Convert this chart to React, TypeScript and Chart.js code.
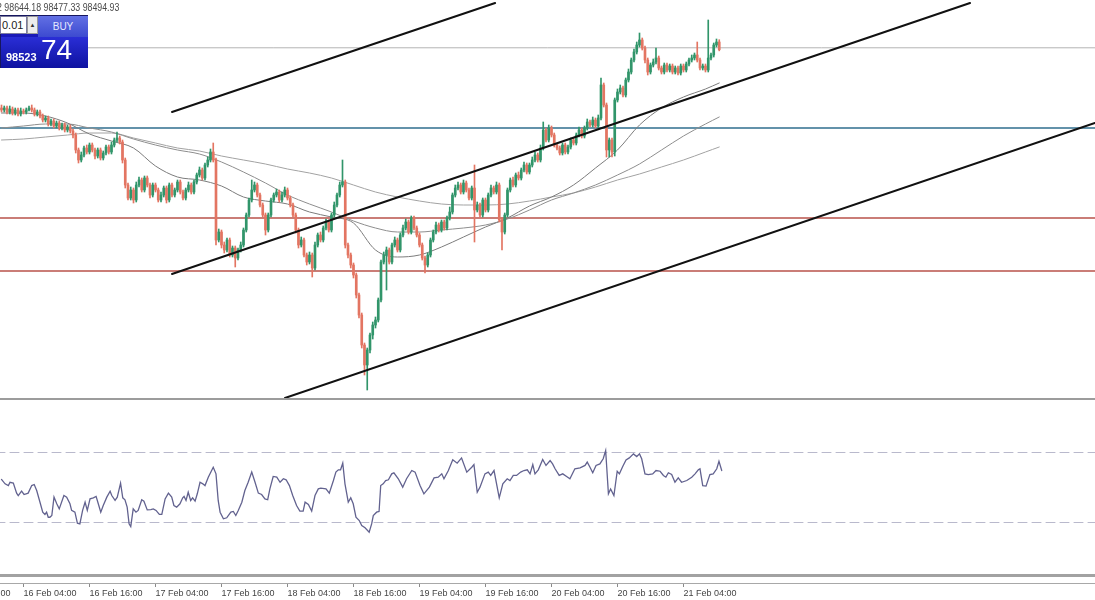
import React, { useEffect, useRef } from "react";
import { Chart, registerables } from "chart.js";

Chart.register(...registerables);

// ---- Candles (BTCUSD, 30-minute bars, bar 0 = 16 Feb 00:00) ----
const opens = [
  97620, 97590, 97620, 97560, 97605, 97545, 97590, 97530, 97575, 97560,
  97590, 97620, 97590, 97530, 97560, 97500, 97440, 97470, 97380, 97425,
  97350, 97395, 97320, 97365, 97290, 97335, 97275, 97215, 96990, 96840,
  96915, 97020, 96960, 97065, 96990, 96900, 96990, 96870, 96945, 97035,
  96960, 97065, 97140, 97170, 97110, 96840, 96465, 96270, 96390, 96240,
  96465, 96540, 96390, 96570, 96465, 96315, 96465, 96390, 96240, 96315,
  96420, 96240, 96465, 96315, 96390, 96510, 96360, 96270, 96390, 96465,
  96360, 96510, 96615, 96690, 96570, 96765, 96840, 96960, 96840, 95640,
  95760, 95565, 95490, 95640, 95415, 95520, 95370, 95490, 95565, 95790,
  96015, 96240, 96390, 96465, 96315, 96165, 96015, 95790, 96015, 96240,
  96315, 96360, 96240, 96315, 96390, 96270, 96165, 96015, 95790, 95565,
  95640, 95415, 95310, 95415, 95220, 95565, 95715, 95640, 95820, 95910,
  95790, 96015, 96165, 96315, 96465, 96510, 95565, 95415, 95265, 95115,
  94815, 94515, 94065, 93765, 93990, 94215, 94365, 94440, 94740, 95310,
  95415, 95490, 95310, 95565, 95640, 95490, 95715, 95820, 95910, 95760,
  95970, 95820, 95715, 95565, 95370, 95265, 95415, 95640, 95760, 95865,
  95790, 95910, 95820, 95970, 96060, 96315, 96420, 96465, 96360, 96495,
  96390, 96270, 96420, 96090, 96165, 96015, 96240, 96090, 96315, 96420,
  96360, 96465, 95940, 95760, 96015, 96390, 96540, 96465, 96615, 96570,
  96690, 96765, 96660, 96765, 96840, 96915, 96840, 97020, 97290, 97140,
  97320, 97215, 97065, 97020, 96945, 97065, 96960, 97035, 97140, 97095,
  97215, 97290, 97200, 97320, 97410, 97365, 97440, 97350, 97470, 97965,
  97665, 96990, 97140, 96960, 97740, 97860, 97920, 97815, 98040, 98160,
  98340, 98460, 98565, 98640, 98520, 98340, 98160, 98265, 98310, 98370,
  98220, 98160, 98265, 98190, 98250, 98160, 98220, 98145, 98250, 98190,
  98280, 98340, 98370, 98415, 98340, 98220, 98250, 98190, 98370, 98415,
  98565, 98610,
];
const highs = [
  97665, 97650, 97650, 97650, 97635, 97620, 97620, 97620, 97605, 97620,
  97650, 97665, 97620, 97590, 97590, 97530, 97500, 97500, 97455, 97455,
  97425, 97425, 97395, 97395, 97365, 97365, 97305, 97245, 97020, 96960,
  97050, 97065, 97095, 97095, 97020, 97020, 97020, 96975, 97065, 97065,
  97110, 97170, 97260, 97200, 97140, 96870, 96495, 96435, 96420, 96510,
  96585, 96570, 96600, 96600, 96495, 96495, 96495, 96420, 96360, 96450,
  96450, 96495, 96495, 96420, 96540, 96540, 96390, 96420, 96510, 96495,
  96540, 96645, 96735, 96720, 96795, 96885, 97005, 97095, 96870, 95805,
  95790, 95610, 95670, 95670, 95550, 95550, 95520, 95610, 95820, 96045,
  96270, 96540, 96510, 96495, 96345, 96195, 96045, 96045, 96270, 96345,
  96405, 96390, 96360, 96435, 96420, 96300, 96195, 96045, 95820, 95685,
  95670, 95445, 95460, 95445, 95610, 95745, 95760, 95850, 95955, 95940,
  96045, 96210, 96345, 96510, 96840, 96540, 95595, 95445, 95295, 95145,
  94845, 94545, 94095, 94020, 94245, 94410, 94485, 94770, 95340, 95460,
  95535, 95520, 95595, 95685, 95670, 95745, 95865, 95955, 95940, 96000,
  96000, 95850, 95745, 95595, 95400, 95445, 95670, 95790, 95910, 95895,
  95940, 95940, 96000, 96135, 96345, 96465, 96510, 96495, 96540, 96525,
  96420, 96450, 96765, 96210, 96195, 96270, 96270, 96345, 96465, 96450,
  96510, 96495, 95970, 96045, 96420, 96570, 96585, 96645, 96660, 96720,
  96810, 96795, 96795, 96885, 96960, 96945, 97065, 97410, 97320, 97365,
  97350, 97245, 97095, 97050, 97095, 97095, 97065, 97170, 97170, 97245,
  97335, 97320, 97350, 97455, 97440, 97485, 97470, 97515, 98070, 97995,
  97695, 97170, 97170, 97770, 97905, 97965, 97950, 98070, 98205, 98370,
  98505, 98610, 98745, 98670, 98550, 98370, 98295, 98355, 98520, 98400,
  98250, 98295, 98295, 98280, 98280, 98250, 98250, 98280, 98280, 98310,
  98370, 98415, 98445, 98610, 98370, 98280, 98280, 98940, 98445, 98595,
  98655, 98644.18,
];
const lows = [
  97560, 97560, 97530, 97530, 97515, 97515, 97500, 97500, 97530, 97530,
  97575, 97560, 97500, 97500, 97470, 97410, 97410, 97350, 97350, 97320,
  97320, 97290, 97290, 97260, 97260, 97245, 97170, 96945, 96795, 96810,
  96885, 96930, 96930, 96960, 96855, 96870, 96840, 96840, 96915, 96930,
  96930, 97035, 97110, 97080, 96795, 96420, 96240, 96240, 96195, 96210,
  96435, 96360, 96360, 96435, 96270, 96285, 96360, 96210, 96210, 96285,
  96195, 96210, 96285, 96285, 96360, 96330, 96240, 96240, 96360, 96330,
  96330, 96480, 96585, 96540, 96540, 96735, 96810, 96810, 95565, 95610,
  95520, 95445, 95460, 95385, 95385, 95235, 95340, 95460, 95535, 95760,
  95985, 96210, 96360, 96285, 96135, 95985, 95715, 95760, 95985, 96210,
  96285, 96210, 96210, 96285, 96240, 96135, 95985, 95745, 95520, 95535,
  95385, 95265, 95280, 95085, 95190, 95535, 95610, 95610, 95790, 95760,
  95760, 95985, 96135, 96285, 96435, 95520, 95370, 95220, 95070, 94770,
  94470, 94020, 93615, 93390, 93945, 94155, 94320, 94410, 94710, 95280,
  94890, 95280, 95280, 95535, 95460, 95460, 95685, 95790, 95730, 95730,
  95790, 95685, 95535, 95340, 95145, 95235, 95385, 95610, 95730, 95760,
  95760, 95790, 95790, 95940, 96030, 96285, 96390, 96330, 96330, 96360,
  96240, 96240, 95610, 96060, 95985, 95985, 96060, 96060, 96285, 96330,
  96330, 95910, 95490, 95730, 95985, 96360, 96435, 96435, 96540, 96540,
  96660, 96630, 96630, 96735, 96810, 96810, 96810, 96990, 97110, 97110,
  97185, 97035, 96990, 96915, 96915, 96930, 96930, 97005, 97065, 97065,
  97185, 97170, 97170, 97290, 97335, 97335, 97320, 97320, 97440, 97635,
  96885, 96885, 96885, 96900, 97710, 97830, 97785, 97785, 98010, 98130,
  98310, 98430, 98535, 98490, 98295, 98115, 98130, 98235, 98280, 98190,
  98130, 98130, 98160, 98160, 98130, 98130, 98115, 98115, 98160, 98160,
  98250, 98310, 98340, 98310, 98190, 98190, 98160, 98160, 98340, 98385,
  98535, 98477.33,
];
const closes = [
  97590, 97620, 97560, 97605, 97545, 97590, 97530, 97575, 97560, 97590,
  97620, 97590, 97530, 97560, 97500, 97440, 97470, 97380, 97425, 97350,
  97395, 97320, 97365, 97290, 97335, 97275, 97215, 96990, 96840, 96915,
  97020, 96960, 97065, 96990, 96900, 96990, 96870, 96945, 97035, 96960,
  97065, 97140, 97170, 97110, 96840, 96465, 96270, 96390, 96240, 96465,
  96540, 96390, 96570, 96465, 96315, 96465, 96390, 96240, 96315, 96420,
  96240, 96465, 96315, 96390, 96510, 96360, 96270, 96390, 96465, 96360,
  96510, 96615, 96690, 96570, 96765, 96840, 96960, 96840, 95640, 95760,
  95565, 95490, 95640, 95415, 95520, 95370, 95490, 95565, 95790, 96015,
  96240, 96390, 96465, 96315, 96165, 96015, 95790, 96015, 96240, 96315,
  96360, 96240, 96315, 96390, 96270, 96165, 96015, 95790, 95565, 95640,
  95415, 95310, 95415, 95220, 95565, 95715, 95640, 95820, 95910, 95790,
  96015, 96165, 96315, 96465, 96510, 95565, 95415, 95265, 95115, 94815,
  94515, 94065, 93765, 93990, 94215, 94365, 94440, 94740, 95310, 95415,
  95490, 95310, 95565, 95640, 95490, 95715, 95820, 95910, 95760, 95970,
  95820, 95715, 95565, 95370, 95265, 95415, 95640, 95760, 95865, 95790,
  95910, 95820, 95970, 96060, 96315, 96420, 96465, 96360, 96495, 96390,
  96270, 96420, 96090, 96165, 96015, 96240, 96090, 96315, 96420, 96360,
  96465, 95940, 95760, 96015, 96390, 96540, 96465, 96615, 96570, 96690,
  96765, 96660, 96765, 96840, 96915, 96840, 97020, 97290, 97140, 97320,
  97215, 97065, 97020, 96945, 97065, 96960, 97035, 97140, 97095, 97215,
  97290, 97200, 97320, 97410, 97365, 97440, 97350, 97470, 97965, 97665,
  96990, 97140, 96960, 97740, 97860, 97920, 97815, 98040, 98160, 98340,
  98460, 98565, 98640, 98520, 98340, 98160, 98265, 98310, 98370, 98220,
  98160, 98265, 98190, 98250, 98160, 98220, 98145, 98250, 98190, 98280,
  98340, 98370, 98415, 98340, 98220, 98250, 98190, 98370, 98415, 98565,
  98610, 98494.93,
];

// ---- Moving averages (sampled every 8 bars) ----
const maIndex = [0, 8, 16, 24, 32, 40, 48, 56, 64, 72, 80, 88, 96, 104, 112, 120, 128, 136, 144, 152, 160, 168, 176, 184, 192, 200, 208, 216, 224, 232, 240, 248, 256, 261];
const maFast = [97545, 97545, 97500, 97395, 97230, 97125, 97020, 96750, 96585, 96540, 96450, 96285, 96225, 96180, 96060, 95985, 95895, 95490, 95385, 95415, 95535, 95685, 95835, 95970, 96150, 96285, 96465, 96720, 96990, 97365, 97620, 97785, 97905, 97995];
const maMid = [97320, 97350, 97380, 97380, 97320, 97260, 97155, 97065, 96990, 96930, 96810, 96660, 96495, 96315, 96180, 96060, 95925, 95820, 95760, 95760, 95790, 95820, 95865, 95955, 96090, 96240, 96345, 96465, 96615, 96780, 96990, 97200, 97380, 97485];
const maSlow = [97140, 97155, 97185, 97215, 97245, 97245, 97170, 97095, 97020, 96975, 96900, 96840, 96780, 96705, 96645, 96570, 96465, 96360, 96285, 96225, 96180, 96165, 96165, 96180, 96225, 96285, 96345, 96435, 96540, 96630, 96735, 96840, 96960, 97035];

// ---- RSI ----
const rsiIndex = [
  0, 1.3, 2.5, 3.1, 4.3, 5.5, 6.1, 7.3, 8.2, 9.7, 11, 11.9, 12.8, 14, 15, 15.8, 16.4, 17, 17.6, 18.3,
  19.1, 20.1, 21, 22.7, 23.7, 24.9, 25.5, 26.7, 27.6, 28.5, 29.5, 30.4, 31.2, 32.2, 33.4, 34.4, 35.2, 36.1, 37, 38.3,
  39.5, 40.1, 41.3, 42.1, 43.3, 44.1, 44.9, 45.7, 46.4, 47, 47.9, 48.9, 49.7, 51, 51.8, 53, 54.3, 55.2, 56.2, 57.4,
  58.3, 59.5, 60.7, 61.9, 62.7, 63.7, 64.9, 65.9, 66.4, 67.1, 67.9, 68.8, 69.5, 70.4, 71.2, 72.2, 73.2, 74, 75.2, 77,
  78, 78.8, 79.5, 80.7, 81.9, 83.4, 84.3, 85.2, 86.1, 87.4, 88.5, 89.7, 91, 92.2, 93.4, 94.6, 95.8, 96.8, 97.6, 98.8,
  100.1, 101.3, 102.5, 103.5, 104.7, 105.9, 107.3, 108.5, 109.7, 110.4, 111.6, 112.8, 114, 115.2, 116.1, 118, 119.2, 120.7, 121.6, 122.5,
  123.3, 124.1, 124.9, 126.1, 127, 127.9, 128.9, 130.1, 131, 132.2, 133.7, 134.6, 135.2, 136.4, 137.3, 137.9, 138.8, 139.7, 140.7, 141.9,
  142.7, 144.3, 145.9, 147.3, 149.2, 150.4, 152.2, 153.6, 155.6, 157.3, 158.8, 160.1, 160.9, 162.5, 164.1, 165.7, 167.3, 169.2, 171, 171.8,
  173, 174, 175.8, 177, 177.9, 179.1, 181, 182.3, 183.9, 184.9, 186.1, 187.3, 188.8, 190, 191.2, 192.2, 193.2, 194, 195.2, 196.8,
  198, 199.5, 200.4, 201.3, 202.8, 204.1, 205.5, 206.7, 208.5, 210.4, 212.2, 213, 214, 215, 216.2, 217.6, 218.8, 219.7, 220.7, 221.5,
  222.7, 223.9, 224.7, 225.9, 227.1, 228.3, 229.8, 231, 232, 232.8, 234, 235.2, 236.8, 238, 239.5, 240.7, 241.6, 242.5, 243.7, 244.9,
  246.1, 247.3, 249.2, 251, 252.2, 253.4, 254, 255, 256.2, 257.6, 258.8, 260.1, 260.9, 261.9,
];
const rsiValues = [
  54.6, 52.1, 51.1, 53.0, 52.5, 46.8, 45.4, 47.9, 46.0, 46.8, 51.1, 51.7, 48.3, 41.6, 35.9, 34.6, 35.9, 33.0, 33.0, 34.0,
  44.5, 40.7, 37.8, 45.4, 44.5, 40.7, 36.9, 35.9, 29.6, 29.2, 36.9, 41.6, 36.9, 43.5, 44.1, 44.9, 40.7, 35.9, 39.7, 44.5,
  47.9, 45.4, 42.6, 44.5, 52.5, 44.1, 43.0, 38.8, 29.2, 27.7, 37.8, 35.9, 36.9, 43.0, 42.2, 37.2, 37.4, 37.8, 36.9, 34.6,
  34.6, 43.5, 46.8, 44.5, 39.7, 38.8, 40.7, 44.1, 44.9, 42.6, 47.3, 42.6, 44.1, 42.2, 46.4, 53.0, 52.1, 51.1, 55.9, 61.6,
  57.8, 42.6, 35.9, 32.1, 32.7, 35.9, 36.3, 34.0, 36.9, 41.6, 48.3, 53.0, 58.8, 53.0, 46.8, 46.0, 43.5, 43.0, 49.2, 56.3,
  55.9, 53.0, 55.0, 54.4, 51.1, 45.4, 39.7, 36.5, 36.5, 41.6, 40.3, 36.5, 45.4, 49.2, 49.6, 49.2, 46.8, 54.0, 58.8, 60.1,
  60.1, 63.9, 52.1, 41.6, 44.1, 40.7, 33.0, 31.1, 28.3, 27.0, 24.5, 29.2, 34.0, 35.9, 36.3, 51.1, 52.1, 54.0, 54.4, 57.8,
  58.4, 55.0, 50.2, 55.0, 59.7, 58.8, 51.1, 46.4, 50.2, 55.5, 55.9, 57.8, 55.0, 59.7, 65.8, 63.9, 66.9, 58.8, 61.6, 63.1,
  47.3, 50.2, 57.8, 58.8, 56.9, 59.7, 44.1, 52.1, 55.0, 54.0, 56.9, 56.9, 58.8, 59.7, 60.1, 57.8, 63.1, 57.8, 60.1, 66.0,
  62.6, 65.4, 63.5, 60.7, 56.9, 57.8, 56.3, 55.0, 60.7, 61.2, 62.6, 64.5, 61.6, 58.4, 62.6, 63.5, 66.4, 71.1, 46.4, 49.2,
  45.4, 59.3, 57.8, 62.0, 65.8, 66.9, 69.2, 67.7, 69.2, 66.4, 57.8, 57.4, 57.8, 59.7, 59.3, 56.9, 55.9, 58.4, 57.4, 53.0,
  55.5, 53.0, 54.0, 55.9, 57.8, 60.1, 60.7, 51.1, 50.8, 57.4, 57.8, 60.7, 65.0, 59.7,
];
const rsiLevels = [70, 30];

// ---- Time axis ----
const timeTickIndex = [-16, 8, 32, 56, 80, 104, 128, 152, 176, 200, 224, 248];
const timeTickLabels = [
  "15 Feb 16:00", "16 Feb 04:00", "16 Feb 16:00", "17 Feb 04:00", "17 Feb 16:00", "18 Feb 04:00",
  "18 Feb 16:00", "19 Feb 04:00", "19 Feb 16:00", "20 Feb 04:00", "20 Feb 16:00", "21 Feb 04:00",
];

// ---- Levels and trend lines ----
const bidPrice = 98523;
const blueLevel = 97320;
const redLevels = [95970, 95175];
const trendUpperIdx = [62.0, 179.5];
const trendUpperPrice = [97560, 99195];
const trendMidIdx = [62.0, 352.2];
const trendMidPrice = [95130, 99195];
const trendLowIdx = [103.1, 397.6];
const trendLowPrice = [93270, 97395];

// ---- View ranges ----
const X_MIN = -0.545;
const X_MAX = 397.64;
const X_MIN_AXIS = -22.36;
const PRICE_MIN = 93270;
const PRICE_MAX = 99240;
const RSI_MIN = -4.571;
const RSI_MAX = 100;

const GREEN = "#31956a";
const RED = "#e37562";
const FONT = "'Liberation Sans', Arial, sans-serif";

function hLine(y: number, x0: number, x1: number) {
  return [{ x: x0, y }, { x: x1, y }];
}

export default function App() {
  const mainRef = useRef<HTMLCanvasElement>(null);
  const rsiRef = useRef<HTMLCanvasElement>(null);

  useEffect(() => {
    const isUp = (i: number) => closes[i] >= opens[i];
    const wickData = closes.map((_c, i) => ({ x: i, y: [lows[i], highs[i]] }));
    const bodyData = closes.map((c, i) => ({ x: i, y: [opens[i], c] }));
    const colorFn = (ctx: any) => (isUp(ctx.dataIndex) ? GREEN : RED);
    const maLine = (vals: number[]) => maIndex.map((x, i) => ({ x, y: vals[i] }));
    const lineBase = { type: "line" as const, pointRadius: 0, fill: false, borderCapStyle: "round" as const };

    const main = new Chart(mainRef.current as HTMLCanvasElement, {
      type: "bar",
      data: {
        datasets: [
          { ...lineBase, data: trendUpperIdx.map((x, i) => ({ x, y: trendUpperPrice[i] })), borderColor: "#111", borderWidth: 2, order: 0 } as any,
          { ...lineBase, data: trendMidIdx.map((x, i) => ({ x, y: trendMidPrice[i] })), borderColor: "#111", borderWidth: 2, order: 0 } as any,
          { ...lineBase, data: trendLowIdx.map((x, i) => ({ x, y: trendLowPrice[i] })), borderColor: "#111", borderWidth: 2, order: 0 } as any,
          { type: "bar", data: bodyData, backgroundColor: colorFn, barThickness: 2, grouped: false, minBarLength: 1, borderWidth: 0, order: 1 } as any,
          { type: "bar", data: wickData, backgroundColor: colorFn, barThickness: 1, grouped: false, minBarLength: 1, borderWidth: 0, order: 2 } as any,
          { ...lineBase, data: maLine(maFast), borderColor: "#7c7c7c", borderWidth: 1, cubicInterpolationMode: "monotone", order: 3 } as any,
          { ...lineBase, data: maLine(maMid), borderColor: "#8e8e8e", borderWidth: 1, cubicInterpolationMode: "monotone", order: 3 } as any,
          { ...lineBase, data: maLine(maSlow), borderColor: "#a2a2a2", borderWidth: 1, cubicInterpolationMode: "monotone", order: 3 } as any,
          { ...lineBase, data: hLine(blueLevel, X_MIN, X_MAX), borderColor: "#2f6e8e", borderWidth: 1.6, order: 4 } as any,
          { ...lineBase, data: hLine(redLevels[0], X_MIN, X_MAX), borderColor: "#b8524a", borderWidth: 1.4, order: 4 } as any,
          { ...lineBase, data: hLine(redLevels[1], X_MIN, X_MAX), borderColor: "#b8524a", borderWidth: 1.4, order: 4 } as any,
          { ...lineBase, data: hLine(bidPrice, X_MIN, X_MAX), borderColor: "#b4b4b4", borderWidth: 1, order: 5 } as any,
        ],
      },
      options: {
        animation: false,
        responsive: false,
        maintainAspectRatio: false,
        events: [],
        layout: { padding: 0 },
        plugins: { legend: { display: false }, tooltip: { enabled: false } },
        scales: {
          x: { type: "linear", min: X_MIN, max: X_MAX, display: false, offset: false },
          y: { type: "linear", min: PRICE_MIN, max: PRICE_MAX, display: false },
        },
      } as any,
    });

    const rsi = new Chart(rsiRef.current as HTMLCanvasElement, {
      type: "line",
      data: {
        datasets: [
          { ...lineBase, data: rsiIndex.map((x, i) => ({ x, y: rsiValues[i] })), borderColor: "#62628f", borderWidth: 1.3, tension: 0, order: 0 } as any,
          ...rsiLevels.map((lv) => ({ ...lineBase, data: hLine(lv, X_MIN_AXIS, X_MAX), borderColor: "#b9b9cc", borderWidth: 1, borderDash: [9, 5], order: 1 } as any)),
        ],
      },
      options: {
        animation: false,
        responsive: false,
        maintainAspectRatio: false,
        events: [],
        layout: { padding: 0 },
        plugins: { legend: { display: false }, tooltip: { enabled: false } },
        scales: {
          x: {
            type: "linear",
            min: X_MIN_AXIS,
            max: X_MAX,
            offset: false,
            afterBuildTicks: (s: any) => {
              s.ticks = timeTickIndex.map((v) => ({ value: v }));
            },
            afterFit: (s: any) => {
              s.height = 17;
            },
            ticks: {
              autoSkip: false,
              maxRotation: 0,
              minRotation: 0,
              align: "start",
              padding: 1,
              color: "#444",
              font: { family: FONT, size: 9 },
              callback: (_v: any, i: number) => timeTickLabels[i],
            },
            grid: { drawOnChartArea: false, drawTicks: true, tickLength: 4, color: "#8a8a8a" },
            border: { display: true, color: "#a8a8a8", width: 1 },
          },
          y: { type: "linear", min: RSI_MIN, max: RSI_MAX, display: false },
        },
      } as any,
    });

    return () => {
      main.destroy();
      rsi.destroy();
    };
  }, []);

  return (
    <div style={{ position: "fixed", left: 0, top: 0, width: 1095, height: 600, overflow: "hidden", background: "#fff", fontFamily: FONT }}>
      <canvas ref={mainRef} width={1095} height={398} style={{ position: "absolute", left: 0, top: 0, width: 1095, height: 398 }} />
      <div style={{ position: "absolute", left: 0, top: 398, width: 1095, height: 2, background: "#9c9c9c" }} />
      <canvas ref={rsiRef} width={1155} height={200} style={{ position: "absolute", left: -60, top: 400, width: 1155, height: 200 }} />
      <div style={{ position: "absolute", left: 0, top: 574, width: 1095, height: 3, background: "#a2a2a2" }} />

      <div style={{ position: "absolute", left: -3, top: 2, fontSize: 10, color: "#4a4a4a", whiteSpace: "nowrap", transform: "scaleX(0.88)", transformOrigin: "left top", lineHeight: "12px" }}>
        2 98644.18 98477.33 98494.93
      </div>

      <div style={{ position: "absolute", left: 0, top: 15, width: 88, height: 53, background: "#1a1ab8", border: "1px solid #16165e", boxSizing: "border-box" }}>
        <div style={{ position: "absolute", left: -1, top: 0, width: 27, height: 18, background: "#fff", border: "1px solid #7c7ca0", boxSizing: "border-box", fontSize: 11, color: "#222", lineHeight: "16px", paddingLeft: 1 }}>0.01</div>
        <div style={{ position: "absolute", left: 26, top: 0, width: 11, height: 18, background: "#ececec", border: "1px solid #9a9a9a", boxSizing: "border-box", fontSize: 6, color: "#333", textAlign: "center", lineHeight: "16px" }}>▲</div>
        <div style={{ position: "absolute", left: 37, top: 0, width: 50, height: 21, background: "linear-gradient(#6270e4, #3c4ad0)", fontSize: 10, color: "#e6e8ff", textAlign: "center", lineHeight: "21px" }}>BUY</div>
        <div style={{ position: "absolute", left: 0, top: 21, width: 87, height: 31, background: "linear-gradient(#2a2ed6, #0e12a0)" }}>
          <span style={{ position: "absolute", left: 5, top: 14, fontSize: 11, fontWeight: 700, color: "#fff", lineHeight: "13px" }}>98523</span>
          <span style={{ position: "absolute", left: 40, top: -2, fontSize: 28, color: "#fff", lineHeight: "30px" }}>74</span>
        </div>
      </div>
    </div>
  );
}
